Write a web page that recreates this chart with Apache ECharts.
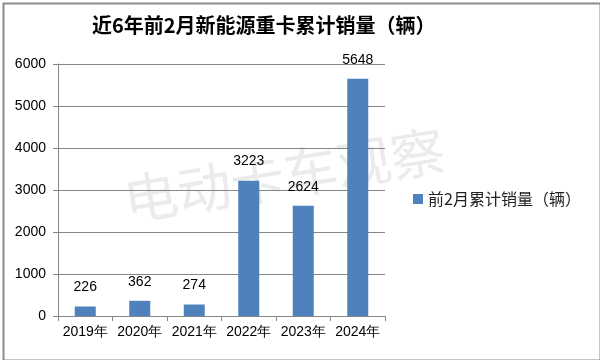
<!DOCTYPE html>
<html><head><meta charset="utf-8">
<script src="https://cdn.jsdelivr.net/npm/echarts@6/dist/echarts.min.js"></script>
<style>html,body{margin:0;padding:0;background:#fff}#c{width:600px;height:360px}</style>
</head><body><div id="c"></div>
<script>
const categories = ['2019年','2020年','2021年','2022年','2023年','2024年'];
const values = [226, 362, 274, 3223, 2624, 5648];
const seriesName = '前2月累计销量（辆）';
const titleText = '近6年前2月新能源重卡累计销量（辆）';
const yTicks = [0, 1000, 2000, 3000, 4000, 5000, 6000];

const chart = echarts.init(document.getElementById('c'));
chart.setOption({
  animation: false,
  backgroundColor: '#fff',
  title: {
    text: titleText, left: 87, top: 10,
    textStyle: {fontFamily: 'Noto Sans CJK SC', fontWeight: 'bold', fontSize: 20, color: '#000'}
  },
  graphic: [
    {type: 'rect', left: 1, top: 1, shape: {width: 597, height: 357}, style: {fill: 'none', stroke: '#8c8c8c', lineWidth: 2}, silent: true},
    {type: 'text', x: 284, y: 175, rotation: 0.16, z: -10, silent: true,
     style: {text: '电动卡车观察', align: 'center', verticalAlign: 'middle', fontFamily: 'Noto Sans CJK SC', fontSize: 54, fill: '#ebebeb'}}
  ],
  legend: {
    data: [seriesName], left: 408, top: 186, orient: 'vertical',
    icon: 'rect', itemWidth: 10, itemHeight: 10, itemGap: 5,
    textStyle: {fontFamily: 'Noto Sans CJK SC', fontSize: 16, color: '#222'}
  },
  grid: {left: 58, right: 215, top: 64, bottom: 44, containLabel: false},
  xAxis: {
    type: 'category', data: categories,
    axisLine: {lineStyle: {color: '#868686', width: 1}},
    axisTick: {show: true, alignWithLabel: false, length: 5, lineStyle: {color: '#868686'}},
    axisLabel: {fontFamily: 'Liberation Sans', fontSize: 14, color: '#000', margin: 9, interval: 0}
  },
  yAxis: {
    type: 'value', min: 0, max: 6000, interval: 1000,
    axisLine: {show: true, lineStyle: {color: '#868686'}},
    axisTick: {show: true, length: 5, lineStyle: {color: '#868686'}},
    axisLabel: {fontFamily: 'Liberation Sans', fontSize: 14, color: '#000', margin: 12, formatter: v => String(v)},
    splitLine: {lineStyle: {color: '#868686', width: 1}}
  },
  series: [{
    name: seriesName, type: 'bar', data: values, barWidth: 21, z: 5,
    itemStyle: {color: '#4f81bd'},
    label: {show: true, position: 'top', distance: 12, fontFamily: 'Liberation Sans', fontSize: 14, color: '#000'}
  }]
});
</script></body></html>
